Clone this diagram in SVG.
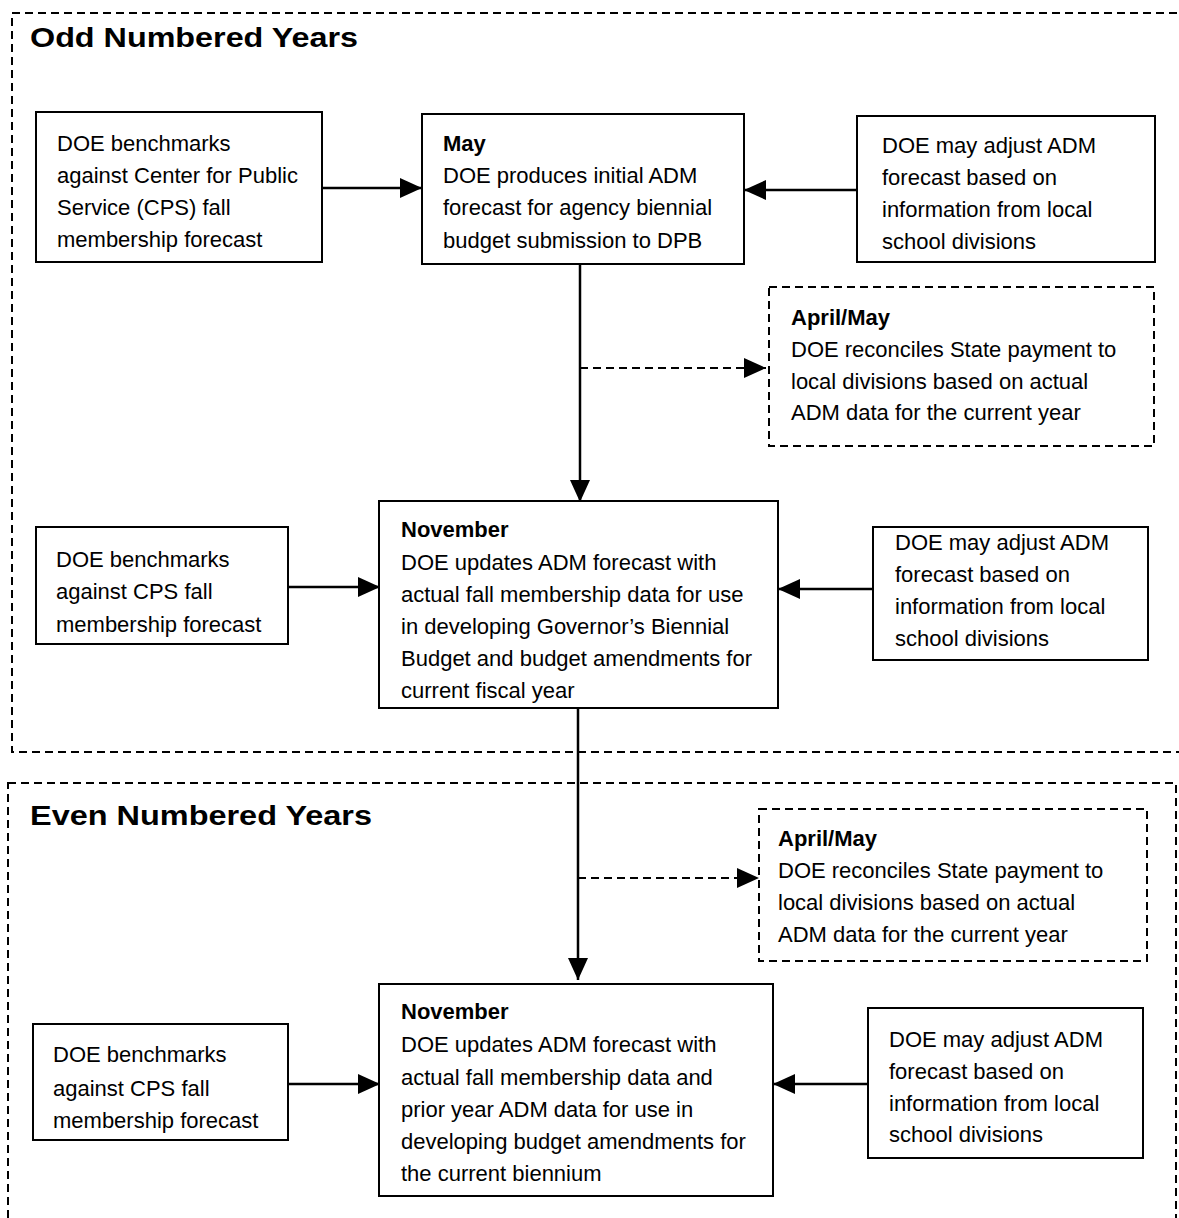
<svg xmlns="http://www.w3.org/2000/svg" width="1179" height="1218" viewBox="0 0 1179 1218">
<style>
text{font-family:"Liberation Sans",Arial,sans-serif;font-size:22px;fill:#000}
.b{font-weight:bold}
.title{font-weight:bold;font-size:28px}
.box{fill:#fff;stroke:#000;stroke-width:2}
.dbox{fill:#fff;stroke:#000;stroke-width:2;stroke-dasharray:8 5}
.region{fill:none;stroke:#000;stroke-width:2;stroke-dasharray:8 5}
.line{fill:none;stroke:#000;stroke-width:2.5}
.dline{fill:none;stroke:#000;stroke-width:2;stroke-dasharray:8 5}
</style>
<defs>
<marker id="ah" markerUnits="userSpaceOnUse" markerWidth="22" markerHeight="20" refX="22" refY="10" orient="auto">
<path d="M0,0 L22,10 L0,20 Z" fill="#000"/>
</marker>
</defs>
<rect width="1179" height="1218" fill="#fff"/>
<g id="region-odd">
<rect class="region" x="12" y="13" width="1185" height="739"/>
<text class="title" x="30" y="47" textLength="328" lengthAdjust="spacingAndGlyphs">Odd Numbered Years</text>
</g>
<g id="region-even">
<rect class="region" x="8" y="783" width="1168" height="460"/>
<text class="title" x="30" y="825" textLength="342" lengthAdjust="spacingAndGlyphs">Even Numbered Years</text>
</g>
<g id="connectors">
<line class="line" x1="322" y1="188" x2="422" y2="188" marker-end="url(#ah)"/>
<line class="line" x1="860" y1="190" x2="744" y2="190" marker-end="url(#ah)"/>
<line class="line" x1="580" y1="264" x2="580" y2="502" marker-end="url(#ah)"/>
<line class="dline" x1="580" y1="368" x2="766" y2="368" marker-end="url(#ah)"/>
<line class="line" x1="288" y1="587" x2="380" y2="587" marker-end="url(#ah)"/>
<line class="line" x1="873" y1="589" x2="778" y2="589" marker-end="url(#ah)"/>
<line class="line" x1="578" y1="708" x2="578" y2="980" marker-end="url(#ah)"/>
<line class="dline" x1="578" y1="878" x2="759" y2="878" marker-end="url(#ah)"/>
<line class="line" x1="288" y1="1084" x2="380" y2="1084" marker-end="url(#ah)"/>
<line class="line" x1="868" y1="1084" x2="773" y2="1084" marker-end="url(#ah)"/>
</g>
<g id="node-cps1">
<rect class="box" x="36" y="112" width="286" height="150"/>
<text x="57" y="151">DOE benchmarks</text>
<text x="57" y="183">against Center for Public</text>
<text x="57" y="215">Service (CPS) fall</text>
<text x="57" y="247">membership forecast</text>
</g>
<g id="node-may">
<rect class="box" x="422" y="114" width="322" height="150"/>
<text class="b" x="443" y="151">May</text>
<text x="443" y="183">DOE produces initial ADM</text>
<text x="443" y="215">forecast for agency biennial</text>
<text x="443" y="248">budget submission to DPB</text>
</g>
<g id="node-adjust1">
<rect class="box" x="857" y="116" width="298" height="146"/>
<text x="882" y="153">DOE may adjust ADM</text>
<text x="882" y="185">forecast based on</text>
<text x="882" y="217">information from local</text>
<text x="882" y="249">school divisions</text>
</g>
<g id="node-april1">
<rect class="dbox" x="769" y="287" width="385" height="159"/>
<text class="b" x="791" y="325">April/May</text>
<text x="791" y="357">DOE reconciles State payment to</text>
<text x="791" y="389">local divisions based on actual</text>
<text x="791" y="420">ADM data for the current year</text>
</g>
<g id="node-nov1">
<rect class="box" x="379" y="501" width="399" height="207"/>
<text class="b" x="401" y="537">November</text>
<text x="401" y="570">DOE updates ADM forecast with</text>
<text x="401" y="602">actual fall membership data for use</text>
<text x="401" y="634">in developing Governor’s Biennial</text>
<text x="401" y="666">Budget and budget amendments for</text>
<text x="401" y="698">current fiscal year</text>
</g>
<g id="node-cps2">
<rect class="box" x="36" y="527" width="252" height="117"/>
<text x="56" y="567">DOE benchmarks</text>
<text x="56" y="599">against CPS fall</text>
<text x="56" y="632">membership forecast</text>
</g>
<g id="node-adjust2">
<rect class="box" x="873" y="527" width="275" height="133"/>
<text x="895" y="550">DOE may adjust ADM</text>
<text x="895" y="582">forecast based on</text>
<text x="895" y="614">information from local</text>
<text x="895" y="646">school divisions</text>
</g>
<g id="node-april2">
<rect class="dbox" x="759" y="809" width="388" height="152"/>
<text class="b" x="778" y="846">April/May</text>
<text x="778" y="878">DOE reconciles State payment to</text>
<text x="778" y="910">local divisions based on actual</text>
<text x="778" y="942">ADM data for the current year</text>
</g>
<g id="node-nov2">
<rect class="box" x="379" y="984" width="394" height="212"/>
<text class="b" x="401" y="1019">November</text>
<text x="401" y="1052">DOE updates ADM forecast with</text>
<text x="401" y="1085">actual fall membership data and</text>
<text x="401" y="1117">prior year ADM data for use in</text>
<text x="401" y="1149">developing budget amendments for</text>
<text x="401" y="1181">the current biennium</text>
</g>
<g id="node-cps3">
<rect class="box" x="33" y="1024" width="255" height="116"/>
<text x="53" y="1062">DOE benchmarks</text>
<text x="53" y="1096">against CPS fall</text>
<text x="53" y="1128">membership forecast</text>
</g>
<g id="node-adjust3">
<rect class="box" x="868" y="1008" width="275" height="150"/>
<text x="889" y="1047">DOE may adjust ADM</text>
<text x="889" y="1079">forecast based on</text>
<text x="889" y="1111">information from local</text>
<text x="889" y="1142">school divisions</text>
</g>
</svg>
